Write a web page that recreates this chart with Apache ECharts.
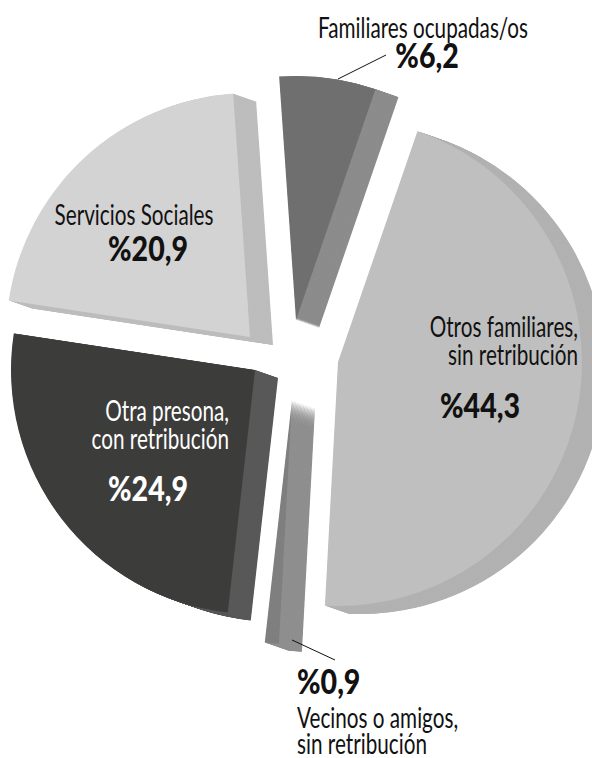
<!DOCTYPE html>
<html>
<head>
<meta charset="utf-8">
<script src="https://cdn.jsdelivr.net/npm/echarts@6/dist/echarts.min.js"></script>
<style>
  html, body { margin: 0; padding: 0; background: #fff; }
  #chart { width: 592px; height: 758px; }
</style>
</head>
<body>
<div id="chart"></div>
<script>
// data, clockwise from the top-right slice
const categories = [
  'Otros familiares,\nsin retribución',
  'Vecinos o amigos,\nsin retribución',
  'Otra presona,\ncon retribución',
  'Servicios Sociales',
  'Familiares ocupadas/os'
]
const values = [44.3, 0.9, 24.9, 20.9, 6.2]

// styles
const topColors = ['#bfbfbf', '#7f7f7f', '#3c3c3b', '#d3d3d3', '#6f6f6f']
const wallColors = ['#b2b2b2', '#8f8f8f', '#595959', '#bdbdbd', '#8c8c8c']
const apex = [[338, 362], [292, 400], [255, 370], [250, 337], [296, 320]]
const R = 244
const depth = [23, 8]
const steps = 40

const REG = '29px Lato, "Noto Sans", sans-serif'
const BOLD = '900 34px Lato, "Noto Sans", sans-serif'

// squeeze the fonts horizontally to look like the condensed face of the original
const ctx = document.createElement('canvas').getContext('2d')
function widthOf(text, font) {
  ctx.font = font
  return Math.max(...text.split('\n').map(t => ctx.measureText(t).width))
}
const regScale = 210 / widthOf('Familiares ocupadas/os', REG)
const boldScale = 80 / widthOf('%24,9', BOLD)

function fmt(v) {
  return '%' + v.toFixed(1).replace('.', ',')
}

function sliceSeries(idx, cx, cy, color) {
  return {
    type: 'pie',
    silent: true,
    animation: false,
    startAngle: 71,
    clockwise: true,
    radius: [0, R],
    center: [cx, cy],
    label: { show: false },
    labelLine: { show: false },
    itemStyle: { borderWidth: 0 },
    data: values.map((v, i) => ({
      value: v,
      name: categories[i],
      itemStyle: { color: i === idx ? color : 'rgba(0,0,0,0)' },
    })),
  }
}

const series = []
// side walls first
values.forEach((_, i) => {
  for (let k = steps; k >= 1; k--) {
    series.push(sliceSeries(i,
      apex[i][0] + depth[0] * k / steps,
      apex[i][1] + depth[1] * k / steps,
      wallColors[i]))
  }
})
// top faces
values.forEach((_, i) => {
  series.push(sliceSeries(i, apex[i][0], apex[i][1], topColors[i]))
})

function txt(text, x, y, opts, isBold) {
  const s = isBold ? boldScale : regScale
  return {
    type: 'text',
    x, y,
    z: 100,
    scaleX: s,
    silent: true,
    style: Object.assign({
      text,
      fill: '#111',
      font: isBold ? BOLD : REG,
      textAlign: 'center',
      textVerticalAlign: 'middle',
      lineHeight: 28,
    }, opts || {}),
  }
}

const graphic = [
  // Familiares ocupadas/os
  txt(categories[4], 423, 26),
  txt(fmt(values[4]), 427, 55, null, true),
  { type: 'line', z: 100, silent: true, shape: { x1: 338, y1: 79, x2: 386, y2: 55 }, style: { stroke: '#111', lineWidth: 1 } },
  // Servicios Sociales
  txt(categories[3], 134, 213),
  txt(fmt(values[3]), 148, 248, null, true),
  // Otros familiares
  txt(categories[0], 578, 339, { textAlign: 'right' }),
  txt(fmt(values[0]), 480, 405, null, true),
  // Otra presona
  txt(categories[2], 229, 423, { textAlign: 'right', fill: '#fff' }),
  txt(fmt(values[2]), 148, 488, { fill: '#fff' }, true),
  // Vecinos o amigos
  txt(fmt(values[1]), 297, 681, { textAlign: 'left' }, true),
  txt(categories[1], 297, 729, { textAlign: 'left', lineHeight: 26 }),
  { type: 'line', z: 100, silent: true, shape: { x1: 292, y1: 640, x2: 335, y2: 660 }, style: { stroke: '#111', lineWidth: 1 } },
]

const chart = echarts.init(document.getElementById('chart'), null, { renderer: 'svg' })
chart.setOption({
  backgroundColor: '#fff',
  animation: false,
  series,
  graphic,
})
</script>
</body>
</html>
